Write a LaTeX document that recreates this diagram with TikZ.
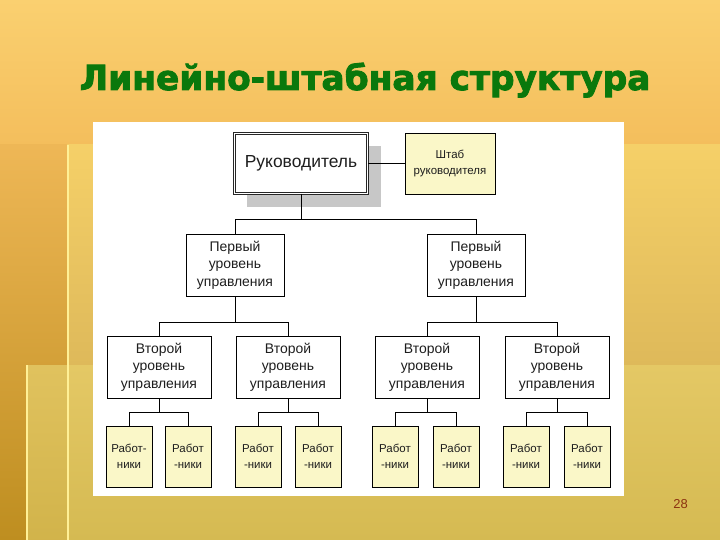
\documentclass[tikz,border=0pt]{standalone}
\usepackage{fontspec}
\setmainfont{Liberation Sans}
\newfontfamily\titlefont{DejaVu Sans}
\usepackage{xcolor}
\usepackage{tikz}
\usetikzlibrary{positioning, calc}
\definecolor{TitleGreen}{RGB}{10,120,12}
\definecolor{BandTop}{RGB}{250,208,112}
\definecolor{BandBot}{RGB}{244,190,92}
\definecolor{StripTop}{RGB}{238,183,86}
\definecolor{StripBot}{RGB}{190,142,32}
\definecolor{PanelTop}{RGB}{245,208,104}
\definecolor{PanelBot}{RGB}{222,185,90}
\definecolor{LowTop}{RGB}{228,200,101}
\definecolor{LowBot}{RGB}{213,186,82}
\definecolor{EdgeLight}{RGB}{255,240,150}
\definecolor{NoteYellow}{RGB}{250,247,200}
\definecolor{BoxText}{RGB}{30,30,30}
\definecolor{PageNum}{RGB}{140,50,16}
% heavier title strokes
\newcommand\heavytext[1]{\special{pdf:literal direct 2 Tr 0.9 w}#1\special{pdf:literal direct 0 Tr}}
\tikzset{
  orgbox/.style={draw=black, line width=0.8bp, fill=white, align=center,
    inner sep=1pt, text=BoxText},
  bossbox/.style={orgbox, double=white, double distance=1.6bp, draw=black!85,
    minimum width=133bp, minimum height=60bp, font=\fontsize{17.5}{20}\selectfont},
  staffbox/.style={orgbox, fill=NoteYellow, minimum width=90bp, minimum height=61bp,
    font=\fontsize{11.5}{16}\selectfont},
  levelone/.style={orgbox, minimum width=98bp, minimum height=62bp,
    font=\fontsize{14}{17.5}\selectfont},
  leveltwo/.style={orgbox, minimum width=104bp, minimum height=62bp,
    font=\fontsize{14}{17.5}\selectfont},
  workbox/.style={orgbox, fill=NoteYellow, minimum width=46bp, minimum height=61bp,
    font=\fontsize{11.5}{16}\selectfont},
  link/.style={draw=black, line width=0.8bp},
  titletext/.style={anchor=base, text=TitleGreen,
    font=\titlefont\bfseries\fontsize{34.5}{40}\selectfont},
}

\begin{document}
\begin{tikzpicture}[x=1bp, y=-1bp]
  \useasboundingbox (0,0) rectangle (720,540);
  % background panels
  \shade[top color=BandTop, bottom color=BandBot] (0,0) rectangle (720,145);
  \shade[top color=PanelTop, bottom color=PanelBot] (67,145) rectangle (720,365);
  \shade[top color=LowTop, bottom color=LowBot] (67,365) rectangle (720,540);
  \shade[top color=StripTop, bottom color=StripBot] (0,145) rectangle (67,540);
  \shade[top color=LowTop!90!StripBot, bottom color=LowBot!85!StripBot] (27,365) rectangle (67,540);
  \draw[EdgeLight, line width=2bp] (68,145) -- (68,540);
  \draw[EdgeLight, line width=2bp] (27,365) -- (27,540);

  % title
  \node[titletext] (title) at (365,90) {\heavytext{Линейно-штабная структура}};

  % white sheet
  \fill[white] (93,122) rectangle (624,496);

  % top level
  \fill[black!22] (247,146) rectangle (381,207);
  \node[bossbox] (boss) at (301,163.5) {Руководитель};
  \node[staffbox] (staff) at (450,163.5) {Штаб\\руководителя};
  \draw[link] (boss) -- (staff);

  % first level
  \node[levelone] (onea) at (235,265) {Первый\\уровень\\управления};
  \node[levelone] (oneb) at (476,265) {Первый\\уровень\\управления};
  \draw[link] (boss.south) -- ++(0,26) -| (onea.north);
  \draw[link] (boss.south) -- ++(0,26) -| (oneb.north);

  % second level
  \node[leveltwo] (twoa) at (159,367) {Второй\\уровень\\управления};
  \node[leveltwo] (twob) at (288,367) {Второй\\уровень\\управления};
  \node[leveltwo] (twoc) at (427,367) {Второй\\уровень\\управления};
  \node[leveltwo] (twod) at (557,367) {Второй\\уровень\\управления};
  \draw[link] (onea.south) -- ++(0,26) -| (twoa.north);
  \draw[link] (onea.south) -- ++(0,26) -| (twob.north);
  \draw[link] (oneb.south) -- ++(0,26) -| (twoc.north);
  \draw[link] (oneb.south) -- ++(0,26) -| (twod.north);

  % workers
  \node[workbox] (wa1) at (129,456.5) {Работ-\\ники};
  \node[workbox] (wa2) at (188,456.5) {Работ\\-ники};
  \node[workbox] (wb1) at (258,456.5) {Работ\\-ники};
  \node[workbox] (wb2) at (318,456.5) {Работ\\-ники};
  \node[workbox] (wc1) at (395,456.5) {Работ\\-ники};
  \node[workbox] (wc2) at (456,456.5) {Работ\\-ники};
  \node[workbox] (wd1) at (526,456.5) {Работ\\-ники};
  \node[workbox] (wd2) at (587,456.5) {Работ\\-ники};
  \foreach \p/\a/\b in {twoa/wa1/wa2, twob/wb1/wb2, twoc/wc1/wc2, twod/wd1/wd2} {
    \draw[link] (\p.south) -- ++(0,14) -| (\a.north);
    \draw[link] (\p.south) -- ++(0,14) -| (\b.north);
  }

  % page number
  \node[text=PageNum, font=\fontsize{13}{15}\selectfont] (page) at (680.5,504) {28};
\end{tikzpicture}
\end{document}
